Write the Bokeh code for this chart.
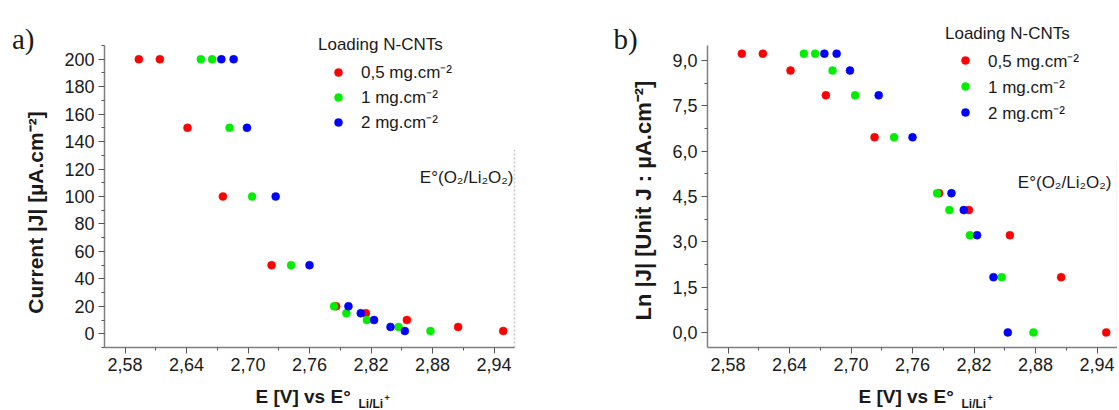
import math
from bokeh.plotting import figure
from bokeh.models import (Range1d, FixedTicker, CustomJSTickFormatter, Label,
                          Legend, LegendItem)
from bokeh.layouts import row
from bokeh.embed import file_html
from bokeh.resources import INLINE

# ---------------- data ----------------
series_labels = ["0,5 mg.cm⁻²", "1 mg.cm⁻²", "2 mg.cm⁻²"]
series_colors = ["#ff0000", "#00ee00", "#0000ff"]

E_05 = [2.5935, 2.614, 2.641, 2.6755, 2.723, 2.786, 2.815, 2.855, 2.905, 2.949]
E_1 = [2.654, 2.665, 2.682, 2.704, 2.742, 2.784, 2.796, 2.816, 2.847, 2.878]
E_2 = [2.674, 2.686, 2.699, 2.727, 2.760, 2.798, 2.810, 2.823, 2.839, 2.853]

J_current = [200, 200, 150, 100, 50, 20, 15, 10, 5, 2]
ln_J = [9.23, 9.23, 8.67, 7.85, 6.46, 4.61, 4.05, 3.22, 1.83, 0.0]

x_major = [2.58, 2.64, 2.70, 2.76, 2.82, 2.88, 2.94]
x_minor = [2.61, 2.67, 2.73, 2.79, 2.85, 2.91]
ya_major = [0, 20, 40, 60, 80, 100, 120, 140, 160, 180, 200]
ya_minor = [-10, 10, 30, 50, 70, 90, 110, 130, 150, 170, 190, 210]
yb_major = [0.0, 1.5, 3.0, 4.5, 6.0, 7.5, 9.0]
yb_minor = [0.75, 2.25, 3.75, 5.25, 6.75, 8.25]

x_bounds = (2.56, 2.96)
ya_bounds = (-10, 210)
yb_bounds = (-0.5, 9.5)

E0_O2_Li2O2 = 2.96          # reference potential (dotted line)
ref_top_a = 134
ref_top_b = 5.7

FONT = "Liberation Sans"
TXT = "#1a1a1a"
H = 410
FRAME_TOP, FRAME_BOTTOM = 45, 347      # pixel rows of the axis box
PX_PER_V = 410 / 0.4


class Panel:
    def __init__(self, page_left, width, axis_px, yb, ymaj, ymin, yfmt, ys, ref_top):
        self.page_left = page_left
        self.axis_px = axis_px
        self.yb = yb
        kx = 1.0 / PX_PER_V
        ky = (yb[1] - yb[0]) / (FRAME_BOTTOM - FRAME_TOP)
        self.kx, self.ky = kx, ky
        xr = (x_bounds[0] - axis_px * kx, x_bounds[0] + (width - axis_px) * kx)
        yr = (yb[0] - (H - FRAME_BOTTOM) * ky, yb[1] + FRAME_TOP * ky)
        p = figure(width=width, height=H, x_range=Range1d(*xr), y_range=Range1d(*yr),
                   output_backend="svg", toolbar_location=None, min_border=0)
        p.min_border_left = p.min_border_right = p.min_border_top = p.min_border_bottom = 0
        p.outline_line_color = None
        p.xgrid.visible = False
        p.ygrid.visible = False
        p.background_fill_color = "white"
        p.border_fill_color = "white"

        p.xaxis.ticker = FixedTicker(ticks=x_major, minor_ticks=x_minor)
        p.xaxis.formatter = CustomJSTickFormatter(code="return tick.toFixed(2).replace('.', ',');")
        p.yaxis.ticker = FixedTicker(ticks=ymaj, minor_ticks=ymin)
        p.yaxis.formatter = CustomJSTickFormatter(code=yfmt)
        p.xaxis.fixed_location = yb[0]
        p.xaxis.bounds = x_bounds
        p.yaxis.fixed_location = x_bounds[0]
        p.yaxis.bounds = yb
        for ax in (p.xaxis, p.yaxis):
            ax.axis_line_color = "#7f7f7f"
            ax.axis_line_width = 1.5
            ax.major_tick_line_color = "#555555"
            ax.minor_tick_line_color = "#555555"
            ax.major_tick_out = 6
            ax.major_tick_in = 0
            ax.minor_tick_out = 3
            ax.minor_tick_in = 0
            ax.major_label_text_font = FONT
            ax.major_label_text_font_size = "18px"
            ax.major_label_text_color = TXT
            ax.major_label_standoff = 4
            ax.axis_label = None

        p.segment(x0=[E0_O2_Li2O2], y0=[yb[0]], x1=[E0_O2_Li2O2], y1=[ref_top],
                  line_color="#c4c4c4", line_width=1.5, line_dash="2 2")

        self.rends = []
        for xs, c in zip([E_05, E_1, E_2], series_colors):
            r = p.scatter(xs, ys, size=8, fill_color=c, line_color=c, line_width=0.5)
            self.rends.append(r)
        self.p = p

    def fx(self, page_x):
        return x_bounds[0] + (page_x - self.page_left - self.axis_px) * self.kx

    def fy(self, page_y):
        return self.yb[1] - (page_y - FRAME_TOP) * self.ky

    def text(self, px, py, text, size, style="normal", font=FONT, align="left",
             baseline="alphabetic", angle=0.0):
        self.p.add_layout(Label(x=self.fx(px), y=self.fy(py), text=text, text_font=font,
                                text_font_size=f"{size}px", text_font_style=style,
                                text_align=align, text_baseline=baseline, angle=angle,
                                text_color=TXT))

    def legend(self, page_x, page_bottom, spacing):
        items = [LegendItem(label=l, renderers=[r]) for l, r in zip(series_labels, self.rends)]
        lg = Legend(items=items, title="Loading N-CNTs",
                    location=(page_x - self.page_left, H - page_bottom),
                    title_text_font=FONT, title_text_font_size="17px",
                    title_text_font_style="normal", title_text_color=TXT,
                    title_standoff=5,
                    label_text_font=FONT, label_text_font_size="17px",
                    label_text_color=TXT,
                    glyph_width=40, glyph_height=20, label_height=20,
                    label_standoff=3, spacing=spacing, padding=0, margin=0,
                    border_line_color=None, background_fill_alpha=0.0)
        self.p.add_layout(lg)


# ---------------- panel a ----------------
A = Panel(0, 560, 104, ya_bounds, ya_major, ya_minor, "return tick.toFixed(0);",
          J_current, ref_top_a)
A.legend(318, 133, 2)
A.text(11.5, 38.5, "a)", 29, font="Liberation Serif")
A.text(34.5, 212, "Current |J| [µA.cm⁻²]", 21, style="bold", align="center",
       baseline="middle", angle=math.pi / 2)
A.text(255, 395.5, "E [V] vs E°", 19, style="bold")
A.text(358, 403.5, "Li/Li", 12, style="bold")
A.text(384, 397, "+", 9, style="bold")
A.text(513, 176.5, "E°(O₂/Li₂O₂)", 17, align="right")

# ---------------- panel b ----------------
B = Panel(560, 557, 147, yb_bounds, yb_major, yb_minor,
          "return tick.toFixed(1).replace('.', ',');", ln_J, ref_top_b)
B.legend(945, 123.5, 3)
B.text(613, 38.5, "b)", 29, font="Liberation Serif")
B.text(643, 200, "Ln |J| [Unit J : µA.cm⁻²]", 22, style="bold", align="center",
       baseline="middle", angle=math.pi / 2)
B.text(858, 395.5, "E [V] vs E°", 19, style="bold")
B.text(961, 403.5, "Li/Li", 12, style="bold")
B.text(987, 397, "+", 9, style="bold")
B.text(1111, 181.5, "E°(O₂/Li₂O₂)", 17, align="right")

layout = row(A.p, B.p)
open("out.html", "w").write(file_html(layout, INLINE))
